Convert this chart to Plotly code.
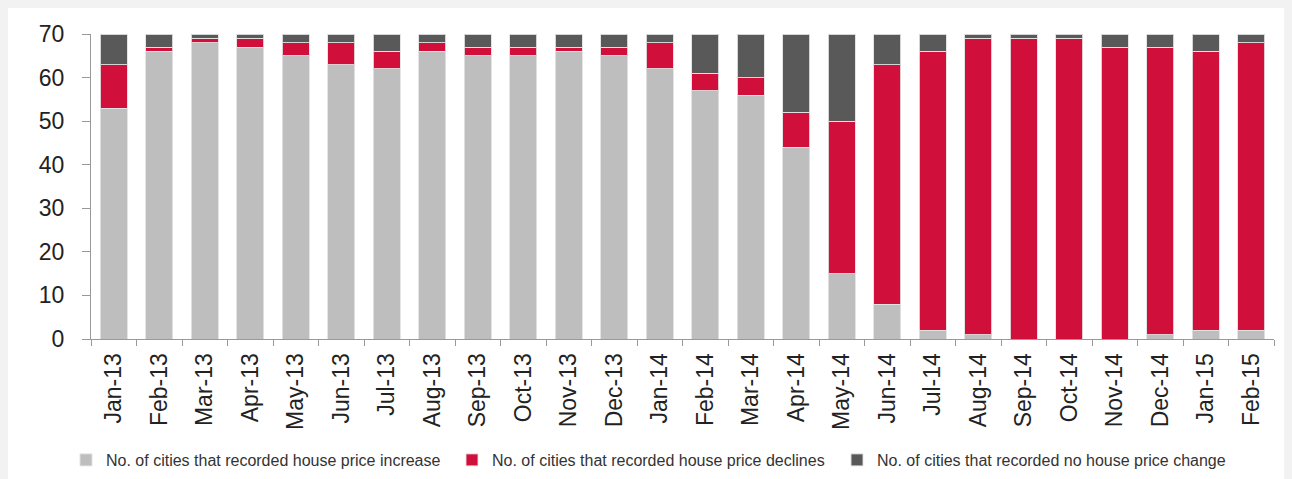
import plotly.graph_objects as go

months = ["Jan-13","Feb-13","Mar-13","Apr-13","May-13","Jun-13","Jul-13","Aug-13","Sep-13","Oct-13",
          "Nov-13","Dec-13","Jan-14","Feb-14","Mar-14","Apr-14","May-14","Jun-14","Jul-14","Aug-14",
          "Sep-14","Oct-14","Nov-14","Dec-14","Jan-15","Feb-15"]
increase = [53,66,68,67,65,63,62,66,65,65,66,65,62,57,56,44,15,8,2,1,0,0,0,1,2,2]
declines = [10,1,1,2,3,5,4,2,2,2,1,2,6,4,4,8,35,55,64,68,69,69,67,66,64,66]
no_change = [7,3,1,1,2,2,4,2,3,3,3,3,2,9,10,18,20,7,4,1,1,1,3,3,4,2]

names = ["No. of cities that recorded house price increase",
         "No. of cities that recorded house price declines",
         "No. of cities that recorded no house price change"]
colors = ["#bebebe", "#d0103a", "#595959"]
legend_ids = ["legend", "legend2", "legend3"]
legend_px = [66, 452, 837]

W, H = 1284, 471
L, R, T, B = 83, 18, 26, 140
pw = W - L - R
ph = H - T - B

fig = go.Figure()
for name, vals, col, lid in zip(names, [increase, declines, no_change], colors, legend_ids):
    fig.add_trace(go.Bar(x=months, y=vals, name=name, marker_color=col, legend=lid,
                         marker_line=dict(width=1, color="rgba(225,225,225,0.9)")))

legend_style = dict(orientation="h", xref="paper", xanchor="left", yref="paper",
                    y=(T + ph - 452) / ph, yanchor="middle",
                    font=dict(size=16, color="#333"), itemwidth=30,
                    bgcolor="rgba(0,0,0,0)")
legends = {lid: dict(legend_style, x=(px - 91) / pw) for lid, px in zip(legend_ids, legend_px)}

fig.update_layout(
    barmode="stack", bargap=0.41,
    width=W, height=H,
    margin=dict(l=L, r=R, t=T, b=B, autoexpand=False),
    paper_bgcolor="white", plot_bgcolor="white",
    font=dict(family="Liberation Sans, Arial, sans-serif", color="#222"),
    showlegend=True,
    xaxis=dict(tickangle=-90, tickfont=dict(size=23), showline=True, linecolor="#999",
               ticks="outside", tickson="boundaries", ticklen=6, tickcolor="#999",
               ticklabelstandoff=4, showgrid=False, automargin=False),
    yaxis=dict(range=[0, 70], dtick=10, tickfont=dict(size=23), showline=True,
               linecolor="#999", ticks="outside", ticklen=8, tickcolor="#999",
               ticklabelstandoff=13, showgrid=False, zeroline=False, automargin=False),
    **legends,
)

fig.write_html("out.html",
               post_script="document.body.style.background='#f2f2f2';")
